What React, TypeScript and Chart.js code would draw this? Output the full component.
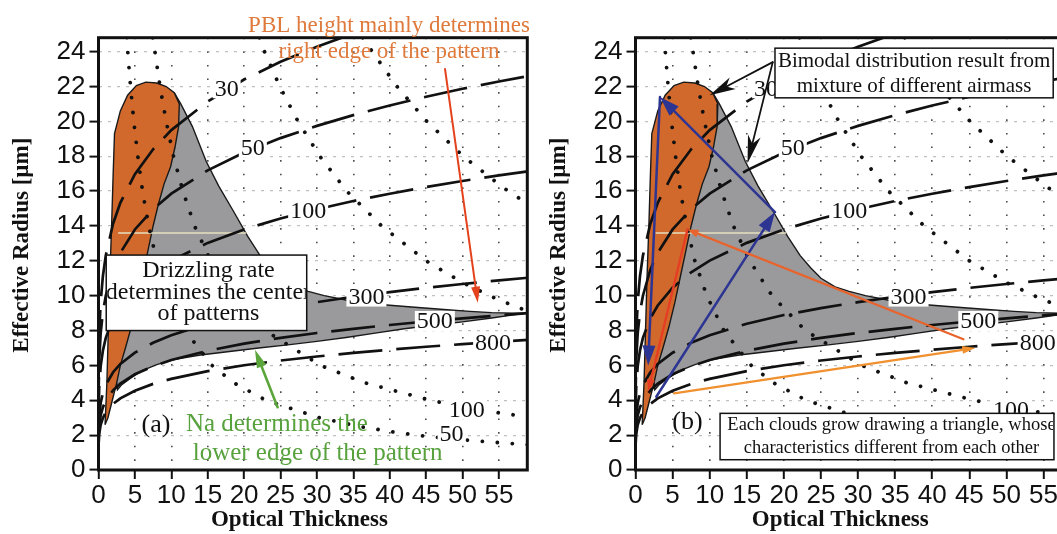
import React, { useEffect, useRef } from 'react';
import { Chart, registerables } from 'chart.js';

Chart.register(...registerables);

// ---------------- data ----------------
const xTickValues = [0, 5, 10, 15, 20, 25, 30, 35, 40, 45, 50, 55];
const yTickValues = [0, 2, 4, 6, 8, 10, 12, 14, 16, 18, 20, 22, 24];

// dashed lines (droplet number concentration)
const tauN = [0, 0.02, 0.1, 0.3, 0.6, 1, 2, 3, 5, 7.5, 10, 15, 20, 25, 30, 35, 40, 45, 50, 55, 59];
const reN30 = [0, 5.62, 7.76, 9.67, 11.11, 12.3, 14.13, 15.33, 16.97, 18.4, 19.5, 21.14, 22.4, 23.42, 24.28, 25.04, 25.72, 26.33, 26.9, 27.42, 27.8];
const reN50 = [0, 4.57, 6.31, 7.86, 9.03, 10.0, 11.49, 12.46, 13.8, 14.96, 15.85, 17.19, 18.21, 19.04, 19.74, 20.36, 20.91, 21.41, 21.87, 22.29, 22.6];
const reN100 = [0, 3.46, 4.78, 5.96, 6.84, 7.58, 8.71, 9.44, 10.46, 11.34, 12.01, 13.03, 13.8, 14.43, 14.96, 15.43, 15.85, 16.23, 16.58, 16.9, 17.13];
const reN300 = [0, 2.23, 3.08, 3.84, 4.41, 4.88, 5.61, 6.08, 6.73, 7.3, 7.73, 8.39, 8.89, 9.29, 9.63, 9.94, 10.2, 10.45, 10.67, 10.88, 11.03];
const reN500 = [0, 1.82, 2.51, 3.13, 3.59, 3.98, 4.57, 4.96, 5.49, 5.95, 6.31, 6.84, 7.25, 7.58, 7.86, 8.1, 8.32, 8.52, 8.7, 8.87, 9.0];
const reN800 = [0, 1.51, 2.08, 2.59, 2.98, 3.3, 3.79, 4.11, 4.55, 4.94, 5.23, 5.67, 6.01, 6.28, 6.51, 6.72, 6.9, 7.07, 7.22, 7.36, 7.46];
const nSeries = [reN30, reN50, reN100, reN300, reN500, reN800];
const nLabelText = ['30', '50', '100', '300', '500', '800'];
const nLabelTau = [17.6, 21.2, 28.8, 36.8, 46.2, 54.2];
const nLabelRe = [21.9, 18.5, 14.9, 9.95, 8.55, 7.3];

// dotted lines
const h1Tau = [3.9, 4.05, 4.4, 4.85, 5.4, 6.05, 6.9, 8.0, 9.6, 11.9, 15.6, 18.6, 23.0, 30.3, 36.2, 40.7, 45.2, 50.0, 54.0, 59.0];
const h1Re = [24.8, 23.8, 22.0, 20.0, 18.0, 16.0, 14.0, 12.0, 10.0, 8.0, 6.0, 5.0, 4.0, 3.0, 2.47, 2.17, 1.92, 1.73, 1.6, 1.45];
const h2Tau = [7.45, 7.75, 8.45, 9.3, 10.3, 11.6, 13.2, 15.4, 18.4, 22.9, 30.5, 36.6, 45.6, 50.6, 55.0, 59.0];
const h2Re = [24.8, 24.0, 22.0, 20.0, 18.0, 16.0, 14.0, 12.0, 10.0, 8.0, 6.0, 5.0, 4.0, 3.58, 3.28, 3.05];
const h3Tau = [22.1, 22.8, 24.9, 27.4, 30.4, 34.1, 38.9, 45.0, 50.0, 54.5, 59.0];
const h3Re = [24.8, 24.0, 22.0, 20.0, 18.0, 16.0, 14.0, 12.0, 10.75, 9.85, 9.1];
const h4Tau = [36.3, 37.6, 41.0, 45.1, 50.1, 55.6, 59.0];
const h4Re = [24.8, 24.0, 22.0, 20.0, 18.0, 16.2, 15.25];
const hTaus = [h1Tau, h2Tau, h3Tau, h4Tau];
const hRes = [h1Re, h2Re, h3Re, h4Re];
const hLabelText = ['100', '50'];
const hLabelTau = [50.6, 48.5];
const hLabelRe = [3.45, 2.06];

// pattern regions
const grayTau = [10.4, 11.3, 12.9, 14.8, 16.5, 18.6, 20.5, 22.2, 23.6, 25.0, 26.9, 28.8, 31.0, 34.0, 37.0, 40.0, 43.0, 47.0, 51.0, 54.0, 57.0, 58.9, 57.0, 54.0, 50.0, 46.0, 42.0, 38.0, 34.0, 30.0, 26.0, 22.0, 18.0, 14.0, 10.5, 8.0, 6.0, 4.5, 3.2, 2.6, 2.2, 3.0, 4.0, 7.0, 9.5, 10.4];
const grayRe = [21.65, 21.0, 19.7, 17.7, 16.3, 14.8, 13.4, 12.3, 11.6, 11.0, 10.5, 10.25, 10.0, 9.75, 9.55, 9.45, 9.35, 9.22, 9.1, 9.03, 9.0, 9.0, 8.9, 8.72, 8.5, 8.3, 8.1, 7.85, 7.6, 7.38, 7.18, 7.0, 6.8, 6.6, 6.35, 6.05, 5.7, 5.3, 4.9, 4.6, 6.0, 9.0, 12.0, 18.0, 21.0, 21.65];
const orangeTau = [0.9, 1.15, 1.35, 1.55, 1.8, 2.0, 2.2, 3.0, 4.0, 5.2, 6.5, 8.0, 9.3, 10.4, 11.1, 11.0, 10.5, 9.9, 9.0, 8.2, 7.5, 6.8, 6.1, 5.3, 4.5, 3.7, 3.0, 2.5, 1.9, 1.3, 0.9];
const orangeRe = [2.6, 5.0, 8.0, 11.0, 14.0, 16.8, 19.3, 20.6, 21.5, 22.05, 22.25, 22.2, 22.0, 21.65, 21.0, 19.7, 18.5, 17.4, 16.4, 15.2, 14.0, 12.6, 11.2, 9.6, 8.2, 7.0, 6.0, 5.0, 4.0, 3.0, 2.6];
const paleTau = [2.7, 20.3];
const paleRe = [13.6, 13.6];

// ---------------- styles / annotations ----------------
const SERIF = '"Liberation Serif", "Times New Roman", serif';
const SANS = '"Liberation Sans", Arial, sans-serif';
const ORANGE_TXT = '#df7a3c';
const GREEN = '#58a23e';
const AREA_TOP = 37.7;
const AREA_BOTTOM = 470;
const CANVAS_H = 534;

const textsA = [
  { t: 'PBL height mainly determines', x: 39.9, y: 25.5, size: 23, color: ORANGE_TXT },
  { t: 'right edge of the pattern', x: 39.9, y: 24.0, size: 23, color: ORANGE_TXT },
  { t: '(a)', x: 7.9, y: 2.6, size: 26, color: '#111' },
  { t: 'Na determines the', x: 24.5, y: 2.6, size: 25, color: GREEN },
  { t: 'lower edge of the pattern', x: 30.1, y: 0.93, size: 25, color: GREEN },
];
const boxesA = [
  { x1: 1.06, y1: 12.33, x2: 28.6, y2: 8.0, cx: 15.1, size: 24, lines: ['Drizzling rate', 'determines the center', 'of patterns'], lineY: [11.45, 10.17, 8.98] },
];
const arrowsA = [
  { from: [47.6, 23.0], to: [52.1, 9.6], color: '#e4421c', width: 2, headLen: 16, headW: 9, notch: 0 },
  { from: [24.6, 3.6], to: [21.5, 6.9], color: '#5aa63a', width: 2.6, headLen: 18, headW: 10, notch: 0 },
];

const textsB = [
  { t: '(b)', x: 7.0, y: 2.75, size: 26, color: '#111' },
];
const boxesB = [
  { x1: 18.8, y1: 24.2, x2: 56.3, y2: 21.35, cx: 37.55, size: 21, lines: ['Bimodal distribution result from', 'mixture of different airmass'], lineY: [23.42, 22.03] },
  { x1: 11.4, y1: 3.25, x2: 56.4, y2: 0.59, cx: 34.5, size: 18.5, lines: ['Each clouds grow drawing a triangle, whose', 'characteristics different from each other'], lineY: [2.56, 1.28] },
];
const arrowsB = [
  { from: [18.5, 23.4], to: [10.0, 21.5], color: '#111', width: 1.8, headLen: 26, headW: 13, notch: 0.28 },
  { from: [18.5, 23.4], to: [15.1, 17.6], color: '#111', width: 1.8, headLen: 28, headW: 13, notch: 0.28 },
  { from: [2.8, 4.2], to: [18.8, 14.8], color: '#2d3592', width: 2.5, headLen: 20, headW: 13, notch: 0 },
  { from: [18.8, 14.8], to: [3.3, 21.4], color: '#2d3592', width: 2.5, headLen: 20, headW: 13, notch: 0 },
  { from: [3.3, 21.4], to: [1.7, 6.0], color: '#2d3592', width: 2.5, headLen: 20, headW: 13, notch: 0 },
  { from: [5.2, 4.4], to: [45.8, 7.0], color: '#f0902e', width: 2.2, headLen: 13, headW: 8, notch: 0 },
  { from: [44.2, 7.5], to: [7.0, 13.8], color: '#e8642c', width: 2.2, headLen: 11, headW: 8, notch: 0 },
  { from: [7.0, 13.8], to: [1.7, 4.5], color: '#e63e24', width: 2.4, headLen: 12, headW: 8, notch: 0 },
];

const panelA = { canvasLeft: 0, width: 540, areaLeft: 98.5, areaRight: 527.3, texts: textsA, boxes: boxesA, arrows: arrowsA };
const panelB = { canvasLeft: 540, width: 540, areaLeft: 95.5, areaRight: 532.5, texts: textsB, boxes: boxesB, arrows: arrowsB };

// ---------------- helpers ----------------
const pts = (xs: number[], ys: number[]) => xs.map((x, i) => ({ x, y: ys[i] }));

function drawArrow(ctx: CanvasRenderingContext2D, x1: number, y1: number, x2: number, y2: number, a: any) {
  const ang = Math.atan2(y2 - y1, x2 - x1);
  const c = Math.cos(ang), s = Math.sin(ang);
  const hl = a.headLen, hw = a.headW / 2;
  ctx.save();
  ctx.strokeStyle = a.color;
  ctx.fillStyle = a.color;
  ctx.lineWidth = a.width;
  ctx.lineCap = 'round';
  ctx.beginPath();
  ctx.moveTo(x1, y1);
  ctx.lineTo(x2 - c * hl * 0.6, y2 - s * hl * 0.6);
  ctx.stroke();
  const bx = x2 - c * hl, by = y2 - s * hl;
  ctx.beginPath();
  ctx.moveTo(x2, y2);
  ctx.lineTo(bx - s * hw, by + c * hw);
  ctx.lineTo(x2 - c * hl * (1 - a.notch), y2 - s * hl * (1 - a.notch));
  ctx.lineTo(bx + s * hw, by - c * hw);
  ctx.closePath();
  ctx.fill();
  ctx.restore();
}

function makeOverlay(panel: any) {
  return {
    id: 'overlay',
    afterDatasetsDraw(chart: any) {
      const ctx: CanvasRenderingContext2D = chart.ctx;
      const xs = chart.scales.x, ys = chart.scales.y;
      ctx.save();
      ctx.font = `24px ${SERIF}`;
      ctx.textAlign = 'center';
      ctx.textBaseline = 'middle';
      const labels = [
        ...nLabelText.map((t, i) => ({ t, x: nLabelTau[i], y: nLabelRe[i] })),
        ...hLabelText.map((t, i) => ({ t, x: hLabelTau[i], y: hLabelRe[i] })),
      ];
      for (const l of labels) {
        const px = xs.getPixelForValue(l.x), py = ys.getPixelForValue(l.y);
        const w = ctx.measureText(l.t).width;
        ctx.fillStyle = '#ffffff';
        ctx.fillRect(px - w / 2 - 2, py - 10, w + 4, 20);
        ctx.fillStyle = '#111';
        ctx.fillText(l.t, px, py + 1);
      }
      ctx.restore();
    },
    afterDraw(chart: any) {
      const ctx: CanvasRenderingContext2D = chart.ctx;
      const xs = chart.scales.x, ys = chart.scales.y;
      const a = chart.chartArea;
      const X = (v: number) => xs.getPixelForValue(v);
      const Y = (v: number) => ys.getPixelForValue(v);
      ctx.save();
      // frame
      ctx.strokeStyle = '#111';
      ctx.lineWidth = 3;
      ctx.strokeRect(a.left, a.top, a.right - a.left, a.bottom - a.top);
      // axis titles
      ctx.fillStyle = '#111';
      ctx.font = `bold 23px ${SERIF}`;
      ctx.textAlign = 'center';
      ctx.textBaseline = 'middle';
      ctx.fillText('Optical Thickness', X(27.6), a.bottom + 50);
      ctx.save();
      ctx.translate(a.left - 76, Y(12.9));
      ctx.rotate(-Math.PI / 2);
      ctx.fillText('Effective Radius [\u00b5m]', 0, 0);
      ctx.restore();
      // boxes
      for (const b of panel.boxes) {
        const l = X(b.x1), r = X(b.x2), t = Y(b.y1), bt = Y(b.y2);
        ctx.fillStyle = '#fff';
        ctx.fillRect(l, t, r - l, bt - t);
        ctx.strokeStyle = '#111';
        ctx.lineWidth = 1.5;
        ctx.strokeRect(l, t, r - l, bt - t);
        ctx.save();
        ctx.beginPath();
        ctx.rect(l + 1, t + 1, r - l - 2, bt - t - 2);
        ctx.clip();
        ctx.fillStyle = '#111';
        ctx.font = `${b.size}px ${SERIF}`;
        b.lines.forEach((ln: string, i: number) => ctx.fillText(ln, X(b.cx), Y(b.lineY[i])));
        ctx.restore();
      }
      // texts
      for (const tx of panel.texts) {
        ctx.fillStyle = tx.color;
        ctx.font = `${tx.size}px ${SERIF}`;
        ctx.fillText(tx.t, X(tx.x), Y(tx.y));
      }
      // arrows
      for (const ar of panel.arrows) {
        drawArrow(ctx, X(ar.from[0]), Y(ar.from[1]), X(ar.to[0]), Y(ar.to[1]), ar);
      }
      ctx.restore();
    },
  };
}

function buildConfig(panel: any): any {
  const datasets: any[] = [];
  datasets.push({
    data: pts(grayTau, grayRe), showLine: true, fill: 'shape', backgroundColor: '#9a9a9c',
    borderColor: '#1a1a1a', borderWidth: 1.4, pointRadius: 0, tension: 0, order: 50,
  });
  datasets.push({
    data: pts(orangeTau, orangeRe), showLine: true, fill: 'shape', backgroundColor: '#d2692c',
    borderColor: '#1a1a1a', borderWidth: 1.4, pointRadius: 0, tension: 0, order: 40,
  });
  datasets.push({
    data: pts(paleTau, paleRe), showLine: true, fill: false, borderColor: '#e6dfbf',
    borderWidth: 1.6, pointRadius: 0, order: 35,
  });
  hTaus.forEach((tx, i) => {
    datasets.push({
      data: pts(tx, hRes[i]), showLine: true, fill: false, borderColor: '#111',
      borderWidth: 3.8, borderDash: [0.01, 15], borderCapStyle: 'round', pointRadius: 0, order: 30,
    });
  });
  nSeries.forEach((ys, i) => {
    datasets.push({
      data: pts(tauN, ys), showLine: true, fill: false, borderColor: '#111',
      borderWidth: 2.7, borderDash: [44, 14], borderDashOffset: i * 9, pointRadius: 0, order: 20,
    });
  });

  return {
    type: 'scatter',
    data: { datasets },
    options: {
      animation: false,
      responsive: false,
      devicePixelRatio: 1,
      events: [],
      layout: { padding: { left: 0, top: AREA_TOP, right: panel.width - panel.areaRight, bottom: 0 } },
      plugins: { legend: { display: false }, tooltip: { enabled: false } },
      elements: { point: { radius: 0, hoverRadius: 0 } },
      scales: {
        x: {
          type: 'linear', min: 0, max: 58.9,
          afterFit: (s: any) => { s.height = CANVAS_H - AREA_BOTTOM; },
          afterBuildTicks: (s: any) => { s.ticks = xTickValues.map((v) => ({ value: v })); },
          ticks: { autoSkip: false, maxRotation: 0, minRotation: 0, padding: 1, color: '#111', font: { family: SANS, size: 26 } },
          grid: { color: 'rgba(30,30,30,0.8)', lineWidth: 1.6, drawTicks: true, tickLength: 9, tickColor: '#111', tickWidth: 2, tickBorderDash: [] },
          border: { display: false, dash: [1.6, 12] },
        },
        y: {
          type: 'linear', min: 0, max: 24.8,
          afterFit: (s: any) => { s.width = panel.areaLeft; },
          afterBuildTicks: (s: any) => { s.ticks = yTickValues.map((v) => ({ value: v })); },
          ticks: { autoSkip: false, padding: 4, color: '#111', font: { family: SANS, size: 26 } },
          grid: { color: 'rgba(150,150,150,0.6)', lineWidth: 1.2, drawTicks: true, tickLength: 9, tickColor: '#111', tickWidth: 2, tickBorderDash: [] },
          border: { display: false, dash: [3, 6] },
        },
      },
    },
    plugins: [makeOverlay(panel)],
  };
}

function PanelChart({ panel }: { panel: any }) {
  const ref = useRef<HTMLCanvasElement | null>(null);
  useEffect(() => {
    if (!ref.current) return;
    const chart = new Chart(ref.current, buildConfig(panel));
    return () => chart.destroy();
  }, [panel]);
  return (
    <canvas
      ref={ref}
      width={panel.width}
      height={CANVAS_H}
      style={{ position: 'absolute', left: panel.canvasLeft, top: 0, width: panel.width, height: CANVAS_H }}
    />
  );
}

export default function App() {
  return (
    <div style={{ position: 'fixed', left: 0, top: 0, width: 1057, height: CANVAS_H, overflow: 'hidden', background: '#ffffff' }}>
      <PanelChart panel={panelA} />
      <PanelChart panel={panelB} />
    </div>
  );
}
